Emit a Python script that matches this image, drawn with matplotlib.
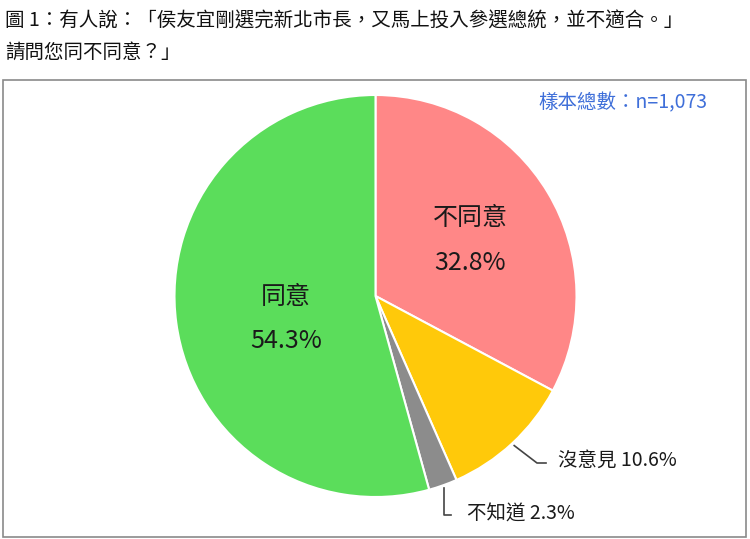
import numpy as np
import matplotlib.pyplot as plt
from matplotlib.patches import Rectangle

plt.rcParams['font.family'] = ['Noto Sans CJK TC', 'DejaVu Sans']

labels = ['不同意', '沒意見', '不知道', '同意']
values = [32.8, 10.6, 2.3, 54.3]
colors = ['#FF8787', '#FFC90A', '#8C8C8C', '#5BDD5B']
title_lines = ['圖 1：有人說：「侯友宜剛選完新北市長，又馬上投入參選總統，並不適合。」',
               '請問您同不同意？」']
sample_text = '樣本總數：n=1,073'

W, H = 750, 539
fig = plt.figure(figsize=(W / 100, H / 100), dpi=100)
ax = fig.add_axes([0, 0, 1, 1])

# frame around the chart
ax.add_patch(Rectangle((3, 2), 743, 457, fill=False, edgecolor='#8a8a8a', lw=1.2))

cx, cy, r = 375.5, H - 296, 201
wedges, _ = ax.pie(values, colors=colors, startangle=90, counterclock=False,
                   center=(cx, cy), radius=r, frame=True,
                   wedgeprops=dict(edgecolor='white', linewidth=1.5))
ax.set_xlim(0, W)
ax.set_ylim(0, H)
ax.axis('off')

txt = '#1a1a1a'
# inside labels
ax.text(470, H - 218, labels[0], fontsize=18, ha='center', va='center', color=txt, weight='medium')
ax.text(470, H - 263, f'{values[0]}%', fontsize=18, ha='center', va='center', color=txt, weight='medium')
ax.text(286, H - 297, labels[3], fontsize=18, ha='center', va='center', color=txt, weight='medium')
ax.text(286, H - 341, f'{values[3]}%', fontsize=18, ha='center', va='center', color=txt, weight='medium')

# outside labels with leader lines
def edge_point(w, rr):
    a = np.deg2rad((w.theta1 + w.theta2) / 2)
    return cx + rr * np.cos(a), cy + rr * np.sin(a)

x0, y0 = edge_point(wedges[1], r + 3)
ax.plot([x0, 537, 546], [y0, H - 463, H - 463], color='#444444', lw=1.2)
ax.text(558, H - 460, f'{labels[1]} {values[1]}%', fontsize=14, ha='left', va='center',
        color=txt, weight='medium')

x1, y1 = edge_point(wedges[2], r + 3)
ax.plot([x1, x1, x1 + 7], [y1, H - 515, H - 515], color='#444444', lw=1.2)
ax.text(467, H - 514, f'{labels[2]} {values[2]}%', fontsize=14, ha='left', va='center',
        color=txt, weight='medium')

ax.text(707, H - 103, sample_text, fontsize=14, ha='right', va='center', color='#3F6FD9',
        weight='medium')

# title
ax.text(5, H - 21, title_lines[0], fontsize=14, ha='left', va='center', color='#111111')
ax.text(5, H - 52, title_lines[1], fontsize=14, ha='left', va='center', color='#111111')

fig.savefig('out.png', dpi=100)
